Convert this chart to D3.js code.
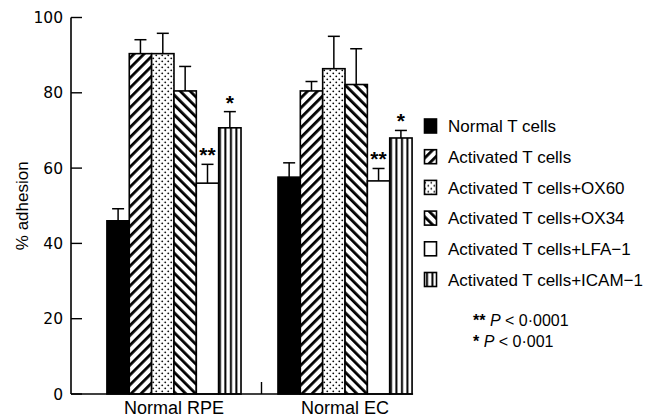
<!DOCTYPE html>
<html>
<head>
<meta charset="utf-8">
<script src="https://cdn.jsdelivr.net/npm/d3@7"></script>
<style>
  body { margin: 0; background: #fff; }
  svg { display: block; }
  text { font-family: "Liberation Sans", Arial, sans-serif; fill: #000; }
</style>
</head>
<body>
<div id="chart"></div>
<script>
// data
let groups = ["Normal RPE", "Normal EC"];
let series = ["Normal T cells", "Activated T cells", "Activated T cells+OX60",
    "Activated T cells+OX34", "Activated T cells+LFA\u22121", "Activated T cells+ICAM\u22121"];
let rpeMeans = [46, 90.4, 90.4, 80.5, 56, 70.7];
let rpeErr = [3.2, 3.7, 5.4, 6.5, 5, 4.3];
let ecMeans = [57.6, 80.5, 86.4, 82.2, 56.6, 68];
let ecErr = [3.8, 2.5, 8.6, 9.5, 3.3, 2];
let rpeStars = ["", "", "", "", "**", "*"];
let ecStars = ["", "", "", "", "**", "*"];
let yTicks = [0, 20, 40, 60, 80, 100];
let pNotes = [["**", "0\u00b70001"], ["*", "0\u00b7001"]];

let fills = ["#000", "url(#hatchUp)", "url(#dots)", "url(#hatchDown)", "#fff", "url(#vstripes)"];

let width = 659, height = 418;

let svg = d3.select("#chart").append("svg")
    .attr("width", width)
    .attr("height", height);

// patterns
let defs = svg.append("defs");

let up = defs.append("pattern")
    .attr("id", "hatchUp")
    .attr("patternUnits", "userSpaceOnUse")
    .attr("width", 7).attr("height", 7)
    .attr("patternTransform", "rotate(45)");
up.append("rect").attr("width", 7).attr("height", 7).attr("fill", "#fff");
up.append("rect").attr("x", 0).attr("width", 2.8).attr("height", 7).attr("fill", "#000");

let down = defs.append("pattern")
    .attr("id", "hatchDown")
    .attr("patternUnits", "userSpaceOnUse")
    .attr("width", 7).attr("height", 7)
    .attr("patternTransform", "rotate(-45)");
down.append("rect").attr("width", 7).attr("height", 7).attr("fill", "#fff");
down.append("rect").attr("x", 0).attr("width", 2.8).attr("height", 7).attr("fill", "#000");

let dots = defs.append("pattern")
    .attr("id", "dots")
    .attr("patternUnits", "userSpaceOnUse")
    .attr("width", 6).attr("height", 6);
dots.append("rect").attr("width", 6).attr("height", 6).attr("fill", "#fff");
dots.append("circle").attr("cx", 1.3).attr("cy", 1.3).attr("r", 0.9).attr("fill", "#000");
dots.append("circle").attr("cx", 4.3).attr("cy", 4.3).attr("r", 0.9).attr("fill", "#000");

let vs = defs.append("pattern")
    .attr("id", "vstripes")
    .attr("patternUnits", "userSpaceOnUse")
    .attr("width", 5.5).attr("height", 10);
vs.append("rect").attr("width", 5.5).attr("height", 10).attr("fill", "#fff");
vs.append("rect").attr("x", 2).attr("width", 2).attr("height", 10).attr("fill", "#000");

// scales
let y = d3.scaleLinear().domain([0, 100]).range([394, 17.5]);
let x = d3.scaleBand().domain(groups).range([71, 448])
    .paddingInner(0.216).paddingOuter(0.21);
let xs = d3.scaleBand().domain(d3.range(series.length)).range([0, x.bandwidth()]);

let table = [
    { group: groups[0], means: rpeMeans, errs: rpeErr, stars: rpeStars },
    { group: groups[1], means: ecMeans, errs: ecErr, stars: ecStars }
];

// y axis
let axisX = 71;
let yAxis = svg.append("g");
yAxis.append("line")
    .attr("x1", axisX).attr("x2", axisX)
    .attr("y1", y(100)).attr("y2", y(0))
    .attr("stroke", "#000").attr("stroke-width", 1.6);
yAxis.selectAll(".tick").data(yTicks).enter().append("line")
    .attr("x1", axisX).attr("x2", axisX + 11)
    .attr("y1", d => y(d)).attr("y2", d => y(d))
    .attr("stroke", "#000").attr("stroke-width", 1.4);
yAxis.selectAll(".lab").data(yTicks).enter().append("text")
    .attr("x", axisX - 8)
    .attr("y", d => y(d))
    .attr("dy", "0.36em")
    .attr("text-anchor", "end")
    .style("font-family", "'DejaVu Sans', sans-serif")
    .style("font-size", "15.5px")
    .text(d => d);

svg.append("text")
    .attr("transform", "translate(28," + y(50) + ") rotate(-90)")
    .attr("text-anchor", "middle")
    .style("font-size", "17px")
    .text("% adhesion");

// bars
let gGroups = svg.selectAll(".grp").data(table).enter().append("g")
    .attr("transform", d => "translate(" + x(d.group) + ",0)");

gGroups.each(function(g) {
    let sel = d3.select(this);
    let rows = g.means.map((m, i) => ({ i: i, m: m, e: g.errs[i], s: g.stars[i] }));

    // error bars (upward only)
    sel.selectAll(".err").data(rows).enter().append("line")
        .attr("x1", d => xs(d.i) + xs.bandwidth() / 2)
        .attr("x2", d => xs(d.i) + xs.bandwidth() / 2)
        .attr("y1", d => y(d.m)).attr("y2", d => y(d.m + d.e))
        .attr("stroke", "#000").attr("stroke-width", 1.5);
    sel.selectAll(".cap").data(rows).enter().append("line")
        .attr("x1", d => xs(d.i) + xs.bandwidth() / 2 - 6)
        .attr("x2", d => xs(d.i) + xs.bandwidth() / 2 + 6)
        .attr("y1", d => y(d.m + d.e)).attr("y2", d => y(d.m + d.e))
        .attr("stroke", "#000").attr("stroke-width", 1.5);

    sel.selectAll(".bar").data(rows).enter().append("rect")
        .attr("x", d => xs(d.i))
        .attr("y", d => y(d.m))
        .attr("width", xs.bandwidth())
        .attr("height", d => y(0) - y(d.m))
        .attr("fill", d => fills[d.i])
        .attr("stroke", "#000")
        .attr("stroke-width", 1.6);

    sel.selectAll(".star").data(rows.filter(d => d.s)).enter().append("text")
        .attr("x", d => xs(d.i) + xs.bandwidth() / 2)
        .attr("y", d => y(d.m + d.e) - 2)
        .attr("text-anchor", "middle")
        .style("font-size", "21px")
        .style("font-weight", "bold")
        .text(d => d.s);
});

// baseline and group separator tick
let xEnd = x(groups[1]) + x.bandwidth();
svg.append("line")
    .attr("x1", axisX).attr("x2", xEnd + 1)
    .attr("y1", y(0)).attr("y2", y(0))
    .attr("stroke", "#000").attr("stroke-width", 1.6);
let sepX = (x(groups[0]) + x.bandwidth() + x(groups[1])) / 2 + 2;
svg.append("line")
    .attr("x1", sepX).attr("x2", sepX)
    .attr("y1", y(0)).attr("y2", y(0) - 12)
    .attr("stroke", "#000").attr("stroke-width", 1.4);

svg.selectAll(".xlab").data(groups).enter().append("text")
    .attr("x", d => x(d) + x.bandwidth() / 2)
    .attr("y", 414)
    .attr("text-anchor", "middle")
    .style("font-size", "18px")
    .text(d => d);

// legend
let legend = svg.append("g").attr("transform", "translate(424,126)");
let items = legend.selectAll(".item").data(series).enter().append("g")
    .attr("transform", (d, i) => "translate(0," + (i * 30.7) + ")");
items.append("rect")
    .attr("x", 0.5).attr("y", -7)
    .attr("width", 12).attr("height", 14)
    .attr("fill", (d, i) => fills[i])
    .attr("stroke", "#000").attr("stroke-width", 1.6);
items.append("text")
    .attr("x", 24).attr("y", 0)
    .attr("dy", "0.36em")
    .style("font-size", "17px")
    .text(d => d);

// significance notes
let notes = svg.selectAll(".note").data(pNotes).enter().append("text")
    .attr("x", 473)
    .attr("y", (d, i) => 326 + i * 21)
    .style("font-size", "16px");
notes.append("tspan").style("font-weight", "bold").text(d => d[0] + " ");
notes.append("tspan").style("font-style", "italic").text("P");
notes.append("tspan").text(d => " < " + d[1]);
</script>
</body>
</html>
